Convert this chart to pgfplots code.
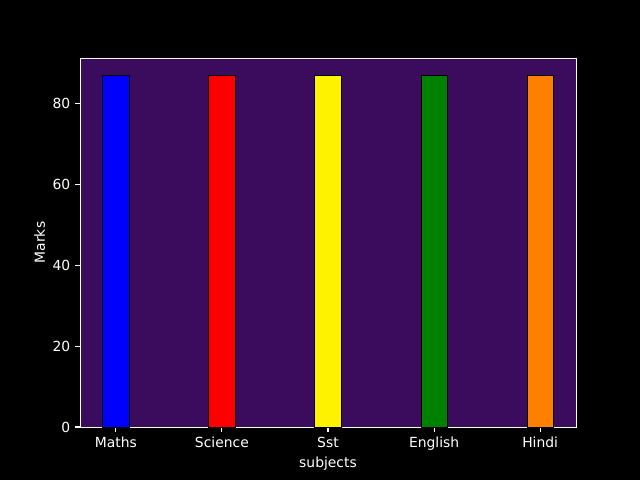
\documentclass[border=0pt]{standalone}
\usepackage{fontspec}
\setmainfont{DejaVu Sans}
\usepackage{pgfplots}
\pgfplotsset{compat=1.18}
\definecolor{bgp}{HTML}{3B0C5E}
\definecolor{mgreen}{HTML}{008000}
\definecolor{morange}{HTML}{FF7F00}
\begin{document}
\begin{tikzpicture}
\fill[black] (-57.6pt,-38.16pt) rectangle (403.2pt,307.44pt);
\begin{axis}[
  at={(0,0)}, anchor=south west,
  scale only axis, width=357.12pt, height=265.68pt,
  xmin=-0.3375, xmax=4.3375, ymin=0, ymax=91.35,
  axis background/.style={fill=bgp},
  axis line style={white},
  xtick={0,1,2,3,4}, xticklabels={Maths,Science,Sst,English,Hindi},
  ytick={0,20,40,60,80},
  tick style={white, line width=0.8pt},
  major tick length=3.5pt,
  tick align=outside,
  xtick pos=bottom, ytick pos=left,
  ticklabel style={white, font=\fontsize{10}{12}\selectfont},
  /pgf/number format/assume math mode=true,
  xlabel={subjects}, ylabel={Marks},
  label style={white, font=\fontsize{10}{12}\selectfont},
  xlabel style={yshift=2pt},
  ylabel style={yshift=-1.5pt},
  ybar, bar width=0.25, bar shift=0pt,
]
\addplot[fill=blue, draw=black] coordinates {(0,87)};
\addplot[fill=red, draw=black] coordinates {(1,87)};
\addplot[fill=yellow, draw=black] coordinates {(2,87)};
\addplot[fill=mgreen, draw=black] coordinates {(3,87)};
\addplot[fill=morange, draw=black] coordinates {(4,87)};
\end{axis}
\end{tikzpicture}
\end{document}
